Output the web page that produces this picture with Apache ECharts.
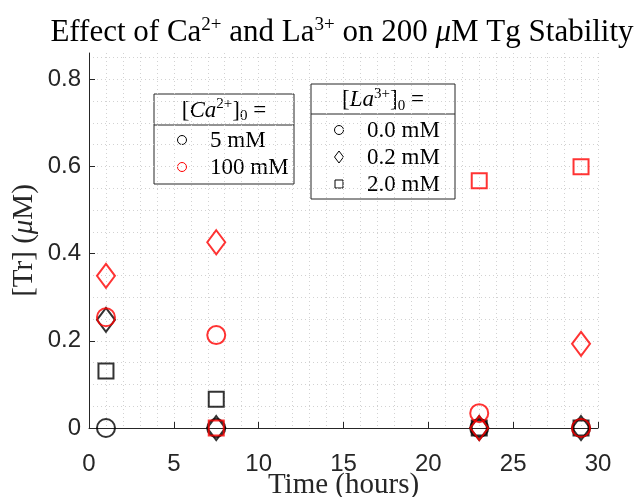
<!DOCTYPE html>
<html>
<head>
<meta charset="utf-8">
<script src="https://cdn.jsdelivr.net/npm/echarts@6/dist/echarts.min.js"></script>
<style>
  html, body { margin: 0; padding: 0; background: #fff; }
  #chart { width: 637px; height: 497px; }
</style>
</head>
<body>
<div id="chart"></div>
<script>
// Sampling times (hours)
const times = [1, 7.5, 23, 29];

// [Tr] (uM) for each Ca2+ / La3+ combination
const ca5_la00   = [0, 0, 0, 0];
const ca5_la02   = [0.248, 0, 0, 0];
const ca5_la20   = [0.131, 0.066, 0, 0];
const ca100_la00 = [0.254, 0.213, 0.034, 0];
const ca100_la02 = [0.349, 0.426, 0, 0.193];
const ca100_la20 = [null, 0, 0.567, 0.599];

// Legend entries
const caLabels = ['5 mM', '100 mM'];
const laLabels = ['0.0 mM', '0.2 mM', '2.0 mM'];

// Horizontal grid levels (major and minor)
const yGridLevels = [0.05, 0.1, 0.15, 0.2, 0.25, 0.3, 0.35, 0.4, 0.45, 0.5,
                     0.55, 0.6, 0.65, 0.7, 0.75, 0.8, 0.85];

const SERIF = '"Liberation Serif", "Times New Roman", serif';
const SANS = '"Liberation Sans", Arial, Helvetica, sans-serif';
const AXIS_COLOR = '#262626';
const GRID_COLOR = '#d2d2d2';
const RED = '#ff0000';
const BLACK = '#000000';

function pairs(vals) {
  return times.map((t, i) => [t, vals[i]]).filter(p => p[1] !== null);
}

const markerShapes = {
  circle: { symbol: 'circle', size: 18 },
  diamond: { symbol: 'diamond', size: [18, 24] },
  square: { symbol: 'rect', size: 15 }
};

function scatter(name, vals, shape, color, extra) {
  const m = markerShapes[shape];
  return Object.assign({
    name: name,
    type: 'scatter',
    data: pairs(vals),
    symbol: m.symbol,
    symbolSize: m.size,
    itemStyle: { color: 'rgba(0,0,0,0)', borderColor: color, borderWidth: 2 },
    emphasis: { disabled: true },
    silent: true,
    z: 3
  }, extra || {});
}

const gridLeft = 89, gridTop = 53, gridW = 509, gridH = 375;

const series = [
  scatter('5 mM, 0.0 mM', ca5_la00, 'circle', BLACK, {
    markLine: {
      silent: true,
      symbol: ['none', 'none'],
      label: { show: false },
      z: 0,
      animation: false,
      lineStyle: { color: GRID_COLOR, type: [1, 3], width: 1 },
      emphasis: { disabled: true },
      data: yGridLevels.map(v => ({ yAxis: v }))
    }
  }),
  scatter('5 mM, 0.2 mM', ca5_la02, 'diamond', BLACK),
  scatter('5 mM, 2.0 mM', ca5_la20, 'square', BLACK),
  scatter('100 mM, 0.0 mM', ca100_la00, 'circle', RED),
  scatter('100 mM, 0.2 mM', ca100_la02, 'diamond', RED),
  scatter('100 mM, 2.0 mM', ca100_la20, 'square', RED)
];

// Legend boxes drawn as graphics
const legendFont = 23;
const txt = { fontFamily: SERIF, fontSize: legendFont, fontWeight: 'normal', fill: '#000' };
const headerRich = {
  n: { fontFamily: SERIF, fontSize: legendFont, color: '#000' },
  i: { fontFamily: SERIF, fontSize: legendFont, fontStyle: 'italic', color: '#000' },
  sup: { fontFamily: SERIF, fontSize: 15, color: '#000', verticalAlign: 'top', padding: [0, 0, 12, 0] },
  sub: { fontFamily: SERIF, fontSize: 15, color: '#000', verticalAlign: 'bottom', padding: [10, 0, 0, 0] }
};

function legendBox(x, y, w, h, divY, headerText, entries) {
  const children = [
    { type: 'rect', shape: { x: x, y: y, width: w, height: h },
      style: { fill: '#fff', stroke: AXIS_COLOR, lineWidth: 1 } },
    { type: 'line', shape: { x1: x, y1: divY, x2: x + w, y2: divY },
      style: { stroke: AXIS_COLOR, lineWidth: 1 } },
    { type: 'text', x: x + w / 2, y: (y + divY) / 2 + 1,
      style: { text: headerText, rich: headerRich, align: 'center', verticalAlign: 'middle' } }
  ];
  entries.forEach(e => {
    const mx = x + e.mx, my = e.y;
    let shape;
    if (e.shape === 'circle') {
      shape = { type: 'circle', shape: { cx: mx, cy: my, r: 4.5 },
        style: { fill: 'none', stroke: e.color, lineWidth: 1 } };
    } else if (e.shape === 'diamond') {
      shape = { type: 'polygon', shape: { points: [[mx, my - 6], [mx + 4.5, my], [mx, my + 6], [mx - 4.5, my]] },
        style: { fill: 'none', stroke: e.color, lineWidth: 1 } };
    } else {
      shape = { type: 'rect', shape: { x: mx - 4, y: my - 4, width: 8, height: 8 },
        style: { fill: 'none', stroke: e.color, lineWidth: 1 } };
    }
    children.push(shape);
    children.push({ type: 'text', x: x + e.tx, y: my + 1,
      style: Object.assign({ text: e.label, align: 'left', verticalAlign: 'middle' }, txt) });
  });
  return { type: 'group', z: 100, children: children };
}

const chart = echarts.init(document.getElementById('chart'), null, { renderer: 'canvas' });

chart.setOption({
  animation: false,
  backgroundColor: '#ffffff',
  title: {
    text: '{n|Effect of Ca}{sup|2+}{n| and La}{sup|3+}{n| on 200 }{i|μ}{n|M Tg Stability}',
    left: 337,
    top: 11,
    textAlign: 'center',
    textStyle: {
      fontWeight: 'normal',
      rich: {
        n: { fontFamily: SERIF, fontSize: 31, fontWeight: 'normal', color: '#000' },
        i: { fontFamily: SERIF, fontSize: 31, fontWeight: 'normal', fontStyle: 'italic', color: '#000' },
        sup: { fontFamily: SERIF, fontSize: 19, fontWeight: 'normal', color: '#000', verticalAlign: 'top', padding: [0, 0, 14, 0] }
      }
    }
  },
  grid: { left: gridLeft, top: gridTop, width: gridW, height: gridH, containLabel: false, outerBoundsMode: 'none' },
  xAxis: {
    type: 'value',
    min: 0, max: 30, interval: 5,
    name: 'Time (hours)',
    nameLocation: 'middle',
    nameGap: 43,
    nameMoveOverlap: false,
    nameTextStyle: { fontFamily: SERIF, fontSize: 29, color: AXIS_COLOR },
    axisLine: { show: true, onZero: false, lineStyle: { color: AXIS_COLOR, width: 1 } },
    axisTick: { show: true, inside: true, length: 6, lineStyle: { color: AXIS_COLOR } },
    axisLabel: { fontFamily: SANS, fontSize: 24, color: AXIS_COLOR, margin: 24 },
    splitLine: { show: true, lineStyle: { color: GRID_COLOR, type: [1, 3], width: 1 } },
    minorTick: { show: true, splitNumber: 5, length: 0 },
    minorSplitLine: { show: true, lineStyle: { color: GRID_COLOR, type: [1, 3], width: 1 } }
  },
  yAxis: {
    type: 'value',
    min: 0, max: 0.86, interval: 0.2,
    name: '{n|[Tr] (}{i|μ}{n|M)}',
    nameLocation: 'middle',
    nameRotate: 90,
    nameGap: 50,
    nameMoveOverlap: false,
    nameTextStyle: {
      rich: {
        n: { fontFamily: SERIF, fontSize: 29, color: AXIS_COLOR },
        i: { fontFamily: SERIF, fontSize: 29, fontStyle: 'italic', color: AXIS_COLOR }
      }
    },
    axisLine: { show: true, onZero: false, lineStyle: { color: AXIS_COLOR, width: 1 } },
    axisTick: { show: true, inside: true, length: 6, lineStyle: { color: AXIS_COLOR } },
    axisLabel: { fontFamily: SANS, fontSize: 24, color: AXIS_COLOR, margin: 8, showMaxLabel: false,
      formatter: v => (Math.abs(v - Math.round(v * 5) / 5) < 1e-9 ? String(Math.round(v * 5) / 5) : '') },
    splitLine: { show: false },
    minorTick: { show: false },
    minorSplitLine: { show: false }
  },
  series: series,
  graphic: [
    legendBox(154, 94, 140, 90, 125,
      '{n|[}{i|Ca}{sup|2+}{n|]}{sub|0}{n| =}',
      [
        { shape: 'circle', color: BLACK, label: caLabels[0], y: 140, mx: 28, tx: 56 },
        { shape: 'circle', color: RED, label: caLabels[1], y: 167, mx: 28, tx: 56 }
      ]),
    legendBox(311, 84, 144, 115, 114,
      '{n|[}{i|La}{sup|3+}{n|]}{sub|0}{n| =}',
      [
        { shape: 'circle', color: BLACK, label: laLabels[0], y: 130, mx: 28, tx: 56 },
        { shape: 'diamond', color: BLACK, label: laLabels[1], y: 157, mx: 28, tx: 56 },
        { shape: 'square', color: BLACK, label: laLabels[2], y: 184, mx: 28, tx: 56 }
      ])
  ]
});
</script>
</body>
</html>
